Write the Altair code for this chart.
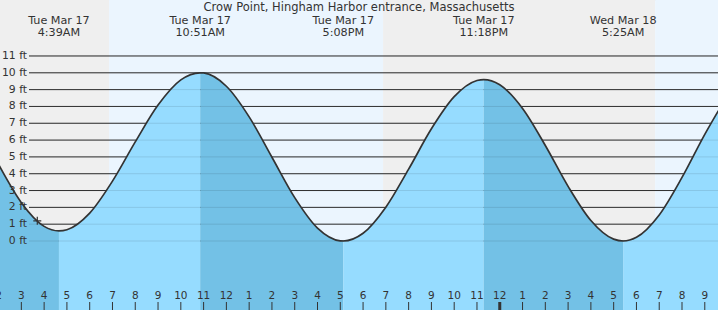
import altair as alt
import pandas as pd

title = "Crow Point, Hingham Harbor entrance, Massachusetts"

# Hours since Tue Mar 17 00:00, water level in feet
tide_hours = [2.0, 3, 4, 4.65, 5, 6, 7, 8, 9, 10, 10.85, 11, 12, 13, 14, 15, 16, 17, 17.133,
              18, 19, 20, 21, 22, 23, 23.3, 24, 25, 26, 27, 28, 29, 29.417,
              30, 31, 32, 33, 33.6]
tide_ft = [4.55, 2.28, 0.87, 0.60, 0.67, 1.66, 3.56, 5.89, 8.08, 9.58, 10.00, 9.99, 9.20, 7.38, 4.98, 2.58, 0.77, 0.01, 0.00,
           0.46, 2.01, 4.27, 6.67, 8.58, 9.54, 9.60, 9.29, 7.88, 5.68, 3.25, 1.22, 0.11, 0.00,
           0.22, 1.55, 3.78, 6.34, 7.75]

# High / low tide events
event_hours = [4.65, 10.85, 17.133, 23.3, 29.417]
event_dates = ["Tue Mar 17", "Tue Mar 17", "Tue Mar 17", "Tue Mar 17", "Wed Mar 18"]
event_times = ["4:39AM", "10:51AM", "5:08PM", "11:18PM", "5:25AM"]

# Day / night bands
sky_start = [1.0, 6.85, 18.88, 30.82]
sky_end = [6.85, 18.88, 30.82, 35.0]
sky_kind = ["night", "day", "night", "day"]

# Current time marker
now_hour = 3.70
now_ft = 1.2

grid_ft = list(range(0, 12))
grid_labels = [f"{v} ft" for v in grid_ft]

tick_hours = list(range(2, 34))
tick_labels = [str(h % 12 if h % 12 else 12) for h in tick_hours]
midnight = [24]

# ---- build tables ----
tide_df = pd.DataFrame({"t": tide_hours, "h": tide_ft})

rows = []
bounds = [-1e9] + event_hours + [1e9]
kinds = ["falling", "rising", "falling", "rising", "falling", "rising"]
for s in range(len(bounds) - 1):
    lo, hi = bounds[s], bounds[s + 1]
    for t, h in zip(tide_hours, tide_ft):
        if lo - 1e-6 <= t <= hi + 1e-6:
            rows.append({"t": t, "h": h, "seg": s, "kind": kinds[s]})
water_df = pd.DataFrame(rows)

sky_df = pd.DataFrame({"t": sky_start, "t2": sky_end, "kind": sky_kind})
grid_df = pd.DataFrame({"h": grid_ft, "label": grid_labels})
tick_df = pd.DataFrame({"t": tick_hours, "label": tick_labels})
mid_df = pd.DataFrame({"t": midnight})
event_df = pd.DataFrame({"t": event_hours, "date": event_dates, "time": event_times})
now_df = pd.DataFrame({"t": [now_hour], "h": [now_ft]})
title_df = pd.DataFrame({"label": [title]})

FONT = "DejaVu Sans"
Y_MIN, Y_MAX = -4.102, 14.328
xs = alt.Scale(domain=[2.063, 33.58], nice=False, zero=False)
ys = alt.Scale(domain=[Y_MIN, Y_MAX], nice=False, zero=False)
cs = alt.Scale(domain=["night", "day", "falling", "rising"],
               range=["#efefef", "#ebf5fe", "#73c1e6", "#96dcff"])

X = alt.X("t:Q", scale=xs, axis=None)
Y = alt.Y("h:Q", scale=ys, axis=None, stack=None)

sky = alt.Chart(sky_df).mark_rect(clip=True).encode(
    x=X, x2="t2:Q", y=alt.value(0), y2=alt.value(310),
    color=alt.Color("kind:N", scale=cs, legend=None))

grid_dark = alt.Chart(grid_df).mark_rule(color="#333333", strokeWidth=1).encode(
    y=Y, x=alt.value(29), x2=alt.value(718))

water = alt.Chart(water_df).mark_area(interpolate="monotone", clip=True, opacity=1).encode(
    x=X, y=Y, y2=alt.Y2(datum=Y_MIN),
    color=alt.Color("kind:N", scale=cs, legend=None),
    detail="seg:N")

grid_faint = alt.Chart(grid_df).mark_rule(color="#000000", opacity=0.1, strokeWidth=1).encode(
    y=Y, x=alt.value(29), x2=alt.value(718))

line = alt.Chart(tide_df).mark_line(interpolate="monotone", color="#333333",
                                    strokeWidth=1.7, clip=True).encode(x=X, y=Y)

now = alt.Chart(now_df).mark_point(shape="M-1,0H1M0,-1V1", size=64, filled=False,
                                   color="#333333", strokeWidth=1.2, opacity=1).encode(x=X, y=Y)

ylab = alt.Chart(grid_df).mark_text(align="right", baseline="middle", font=FONT,
                                    fontSize=10.8, color="#333333").encode(
    x=alt.value(27), y=Y, text="label:N")

ticks = alt.Chart(tick_df).mark_rule(color="#333333", strokeWidth=1).encode(
    x=X, y=alt.value(302), y2=alt.value(310))
mid_tick = alt.Chart(mid_df).mark_rule(color="#333333", strokeWidth=3).encode(
    x=X, y=alt.value(302), y2=alt.value(310))
xlab = alt.Chart(tick_df).mark_text(align="center", baseline="alphabetic", font=FONT,
                                    fontSize=10.5, color="#333333").encode(
    x=X, y=alt.value(299), text="label:N")

ev_date = alt.Chart(event_df).mark_text(align="center", baseline="alphabetic", font=FONT,
                                        fontSize=11.2, color="#333333").encode(
    x=X, y=alt.value(23.5), text="date:N")
ev_time = alt.Chart(event_df).mark_text(align="center", baseline="alphabetic", font=FONT,
                                        fontSize=11.2, color="#333333").encode(
    x=X, y=alt.value(36), text="time:N")

ttl = alt.Chart(title_df).mark_text(align="center", baseline="alphabetic", font=FONT,
                                    fontSize=11.5, color="#333333").encode(
    x=alt.value(359), y=alt.value(11), text="label:N")

chart = alt.layer(
    sky, grid_dark, water, grid_faint, line, now, ylab, ticks, mid_tick, xlab,
    ev_date, ev_time, ttl
).properties(
    width=718, height=310, padding=0, autosize=alt.AutoSizeParams(type="none")
).configure_view(stroke=None).configure(background="white")

chart.save("out.html", embed_options={"renderer": "svg", "actions": False})
